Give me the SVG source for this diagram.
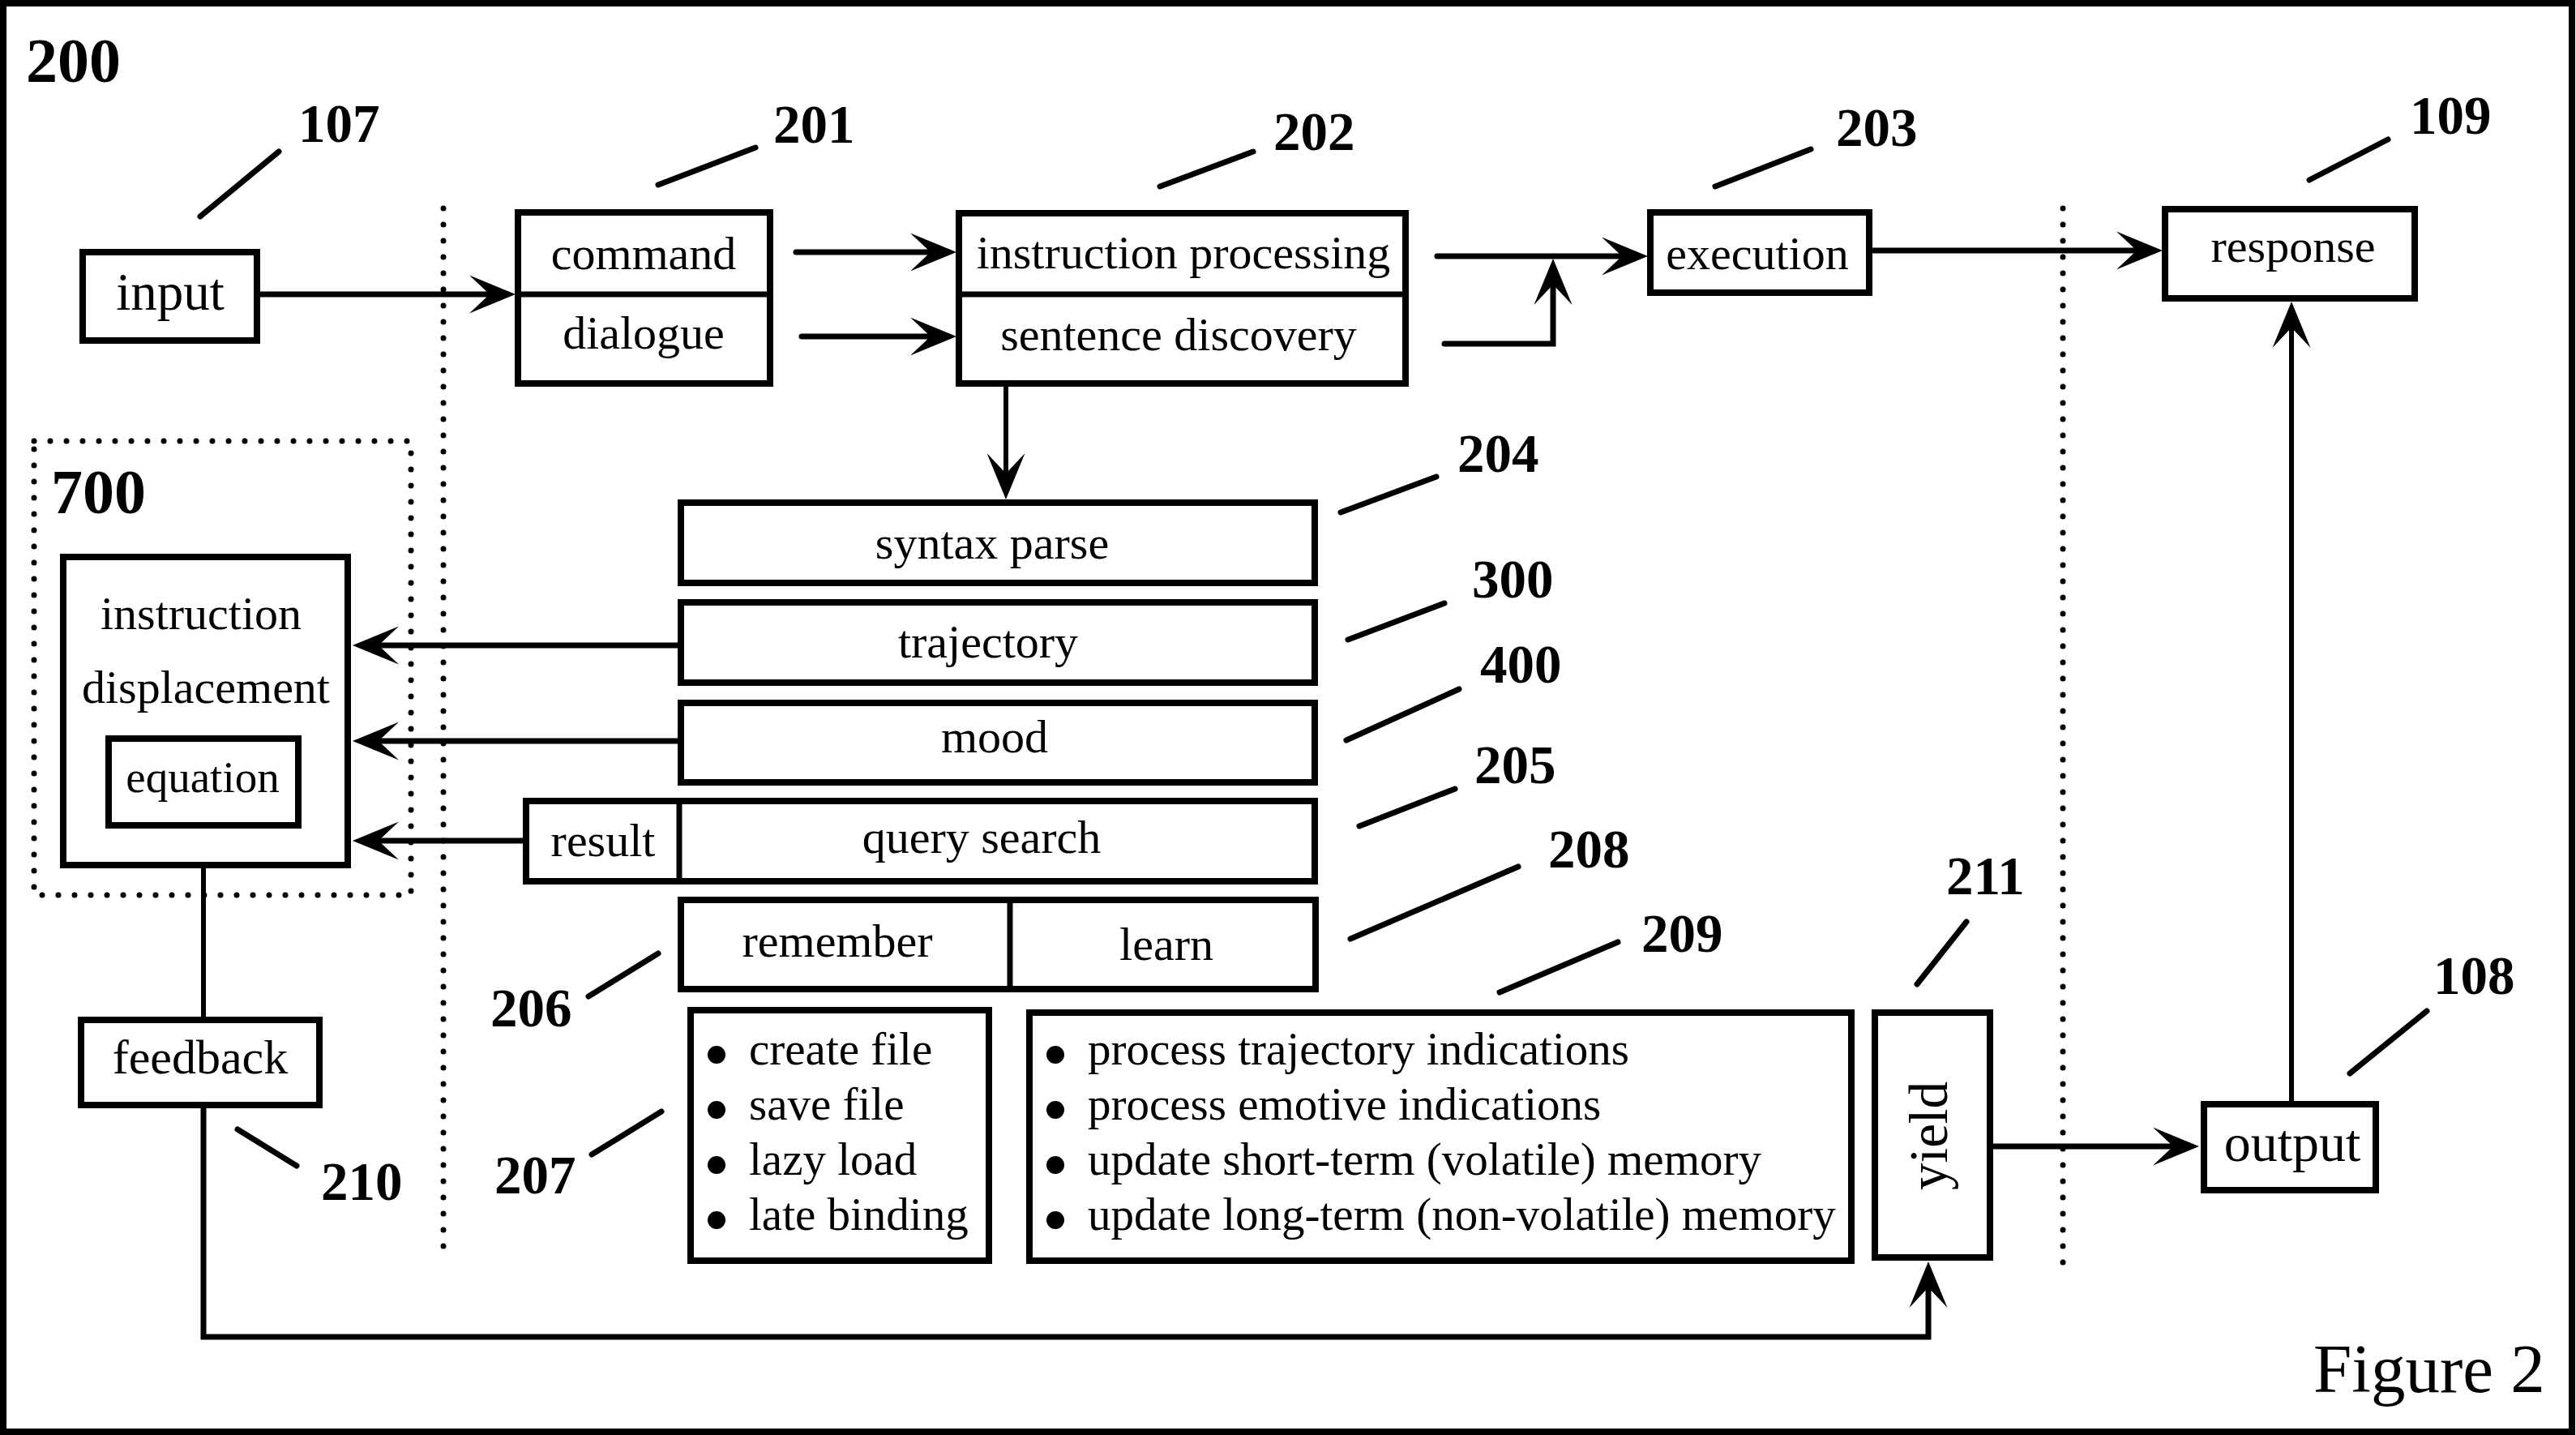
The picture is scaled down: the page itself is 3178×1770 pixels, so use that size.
<svg xmlns="http://www.w3.org/2000/svg" width="3178" height="1770" viewBox="0 0 3178 1770">
<defs>
<style>
.box{fill:#fff;stroke:#000;stroke-width:8}
.div{stroke:#000;stroke-width:7;fill:none}
.t{font-family:"Liberation Serif","Times New Roman",serif;font-size:58px;fill:#000;text-anchor:middle}
.l{font-family:"Liberation Serif","Times New Roman",serif;font-size:67px;font-weight:bold;fill:#000}
.big{font-size:78px}
.fig{font-family:"Liberation Serif","Times New Roman",serif;font-size:85px;font-weight:normal;fill:#000}
.li{font-family:"Liberation Serif","Times New Roman",serif;font-size:57px;fill:#000}
.lead{stroke:#000;stroke-width:7;stroke-linecap:round;fill:none}
.dot{stroke:#000;stroke-width:7;stroke-linecap:round;stroke-dasharray:0 20;fill:none}
.c{stroke:#000;stroke-width:7;fill:none}
</style>
<marker id="ah" markerUnits="userSpaceOnUse" viewBox="-30 -25 64 50" markerWidth="64" markerHeight="50" refX="0" refY="0" orient="auto">
<path d="M31,0 L-26,-23.5 L-1,0 L-26,23.5 Z" fill="#000"/>
</marker>
</defs>
<rect x="0" y="0" width="3178" height="1770" fill="#fff"/>
<rect x="4" y="4" width="3169" height="1762" fill="none" stroke="#000" stroke-width="8"/>

<g id="dividers">
<line class="dot" x1="547" y1="257" x2="547" y2="1540"/>
<line class="dot" x1="2545" y1="257" x2="2545" y2="1562"/>
</g>

<g id="connectors">
<path class="c" d="M321,363 L605,363" marker-end="url(#ah)"/>
<path class="c" d="M982,311 L1149,311" stroke-linecap="round" marker-end="url(#ah)"/>
<path class="c" d="M989,415 L1149,415" stroke-linecap="round" marker-end="url(#ah)"/>
<path class="c" d="M1773,316 L2002,316" stroke-linecap="round" marker-end="url(#ah)"/>
<path class="c" d="M1782,424 L1916,424 L1916,350" stroke-linecap="round" marker-end="url(#ah)"/>
<path class="c" d="M2310,309 L2637,309" marker-end="url(#ah)"/>
<path class="c" d="M1241,477 L1241,585" style="stroke-width:6" marker-end="url(#ah)"/>
<path class="c" d="M836,796 L466,796" marker-end="url(#ah)"/>
<path class="c" d="M836,914 L466,914" marker-end="url(#ah)"/>
<path class="c" d="M645,1037 L466,1037" marker-end="url(#ah)"/>
<path class="c" d="M251,1071 L251,1254" style="stroke-width:6"/>
<path class="c" d="M251,1367 L251,1649 L2379,1649 L2379,1587" marker-end="url(#ah)"/>
<path class="c" d="M2459,1414 L2682,1414" marker-end="url(#ah)"/>
<path class="c" d="M2827,1358 L2827,403" style="stroke-width:6" marker-end="url(#ah)"/>
</g>

<g id="leaders">
<line class="lead" x1="344" y1="187" x2="247" y2="267"/>
<line class="lead" x1="932" y1="182" x2="812" y2="228"/>
<line class="lead" x1="1546" y1="187" x2="1431" y2="230"/>
<line class="lead" x1="2116" y1="230" x2="2234" y2="184"/>
<line class="lead" x1="2946" y1="172" x2="2849" y2="222"/>
<line class="lead" x1="1772" y1="588" x2="1654" y2="632"/>
<line class="lead" x1="1782" y1="744" x2="1663" y2="789"/>
<line class="lead" x1="1800" y1="850" x2="1661" y2="913"/>
<line class="lead" x1="1795" y1="973" x2="1677" y2="1019"/>
<line class="lead" x1="1873" y1="1069" x2="1666" y2="1158"/>
<line class="lead" x1="1996" y1="1162" x2="1850" y2="1224"/>
<line class="lead" x1="812" y1="1176" x2="726" y2="1229"/>
<line class="lead" x1="816" y1="1371" x2="730" y2="1424"/>
<line class="lead" x1="293" y1="1393" x2="366" y2="1438"/>
<line class="lead" x1="2426" y1="1137" x2="2365" y2="1214"/>
<line class="lead" x1="2994" y1="1247" x2="2899" y2="1324"/>
</g>

<g id="labels">
<text class="l big" x="32" y="101">200</text>
<text class="l" x="368" y="175">107</text>
<text class="l" x="954" y="176">201</text>
<text class="l" x="1571" y="185">202</text>
<text class="l" x="2265" y="180">203</text>
<text class="l" x="2973" y="165">109</text>
<text class="l" x="1798" y="582">204</text>
<text class="l" x="1816" y="737">300</text>
<text class="l" x="1826" y="842">400</text>
<text class="l" x="1819" y="966">205</text>
<text class="l" x="1910" y="1070">208</text>
<text class="l" x="2025" y="1174">209</text>
<text class="l" x="605" y="1266">206</text>
<text class="l" x="610" y="1472">207</text>
<text class="l" x="396" y="1480">210</text>
<text class="l" x="2401" y="1103">211</text>
<text class="l" x="3002" y="1226">108</text>
<text class="fig" x="2854" y="1717">Figure 2</text>
</g>

<g id="n700">
<rect x="42" y="544" width="465" height="560" class="dot"/>
<text class="l big" x="63" y="633">700</text>
</g>

<g id="input">
<rect class="box" x="102" y="311" width="215" height="109"/>
<text class="t" x="210" y="382" style="font-size:65px">input</text>
</g>

<g id="command-dialogue">
<rect class="box" x="639" y="262" width="311" height="211"/>
<line class="div" x1="635" y1="363" x2="954" y2="363"/>
<text class="t" x="794" y="332">command</text>
<text class="t" x="794" y="430">dialogue</text>
</g>

<g id="instruction-processing">
<rect class="box" x="1183" y="263" width="551" height="210"/>
<line class="div" x1="1179" y1="363" x2="1738" y2="363"/>
<text class="t" x="1460" y="331">instruction processing</text>
<text class="t" x="1454" y="432">sentence discovery</text>
</g>

<g id="execution">
<rect class="box" x="2036" y="262" width="270" height="99"/>
<text class="t" x="2168" y="332">execution</text>
</g>

<g id="response">
<rect class="box" x="2671" y="258" width="308" height="110"/>
<text class="t" x="2829" y="323">response</text>
</g>

<g id="instruction-displacement">
<rect class="box" x="78" y="687" width="351" height="380"/>
<text class="t" x="248" y="776">instruction</text>
<text class="t" x="254" y="867">displacement</text>
<rect class="box" x="134" y="911" width="234" height="107"/>
<text class="t" x="250" y="977" style="font-size:55px">equation</text>
</g>

<g id="syntax-parse">
<rect class="box" x="840" y="620" width="782" height="99"/>
<text class="t" x="1224" y="689">syntax parse</text>
</g>

<g id="trajectory">
<rect class="box" x="840" y="743" width="782" height="99"/>
<text class="t" x="1219" y="811">trajectory</text>
</g>

<g id="mood">
<rect class="box" x="840" y="867" width="782" height="98"/>
<text class="t" x="1227" y="928">mood</text>
</g>

<g id="query-search">
<rect class="box" x="649" y="988" width="973" height="99"/>
<line class="div" x1="838" y1="984" x2="838" y2="1091"/>
<text class="t" x="744" y="1056">result</text>
<text class="t" x="1211" y="1052">query search</text>
</g>

<g id="remember-learn">
<rect class="box" x="840" y="1110" width="783" height="110"/>
<line class="div" x1="1246" y1="1106" x2="1246" y2="1224"/>
<text class="t" x="1033" y="1180">remember</text>
<text class="t" x="1439" y="1184">learn</text>
</g>

<g id="file-ops">
<rect class="box" x="852" y="1246" width="368" height="309"/>
<circle cx="884" cy="1301" r="11"/>
<circle cx="884" cy="1369" r="11"/>
<circle cx="884" cy="1437" r="11"/>
<circle cx="884" cy="1505" r="11"/>
<text class="li" x="924" y="1313">create file</text>
<text class="li" x="924" y="1381">save file</text>
<text class="li" x="924" y="1449">lazy load</text>
<text class="li" x="924" y="1517">late binding</text>
</g>

<g id="processing-list">
<rect class="box" x="1270" y="1249" width="1014" height="306"/>
<circle cx="1302" cy="1301" r="11"/>
<circle cx="1302" cy="1369" r="11"/>
<circle cx="1302" cy="1437" r="11"/>
<circle cx="1302" cy="1505" r="11"/>
<text class="li" x="1342" y="1313">process trajectory indications</text>
<text class="li" x="1342" y="1381">process emotive indications</text>
<text class="li" x="1342" y="1449">update short-term (volatile) memory</text>
<text class="li" x="1342" y="1517">update long-term (non-volatile) memory</text>
</g>

<g id="yield">
<rect class="box" x="2313" y="1249" width="142" height="302"/>
<text class="t" x="0" y="0" style="font-size:67px" transform="translate(2402,1401) rotate(-90)">yield</text>
</g>

<g id="output">
<rect class="box" x="2719" y="1362" width="212" height="106"/>
<text class="t" x="2828" y="1432" style="font-size:66px">output</text>
</g>

<g id="feedback">
<rect class="box" x="100" y="1258" width="294" height="105"/>
<text class="t" x="247" y="1324" style="font-size:60px">feedback</text>
</g>
</svg>
